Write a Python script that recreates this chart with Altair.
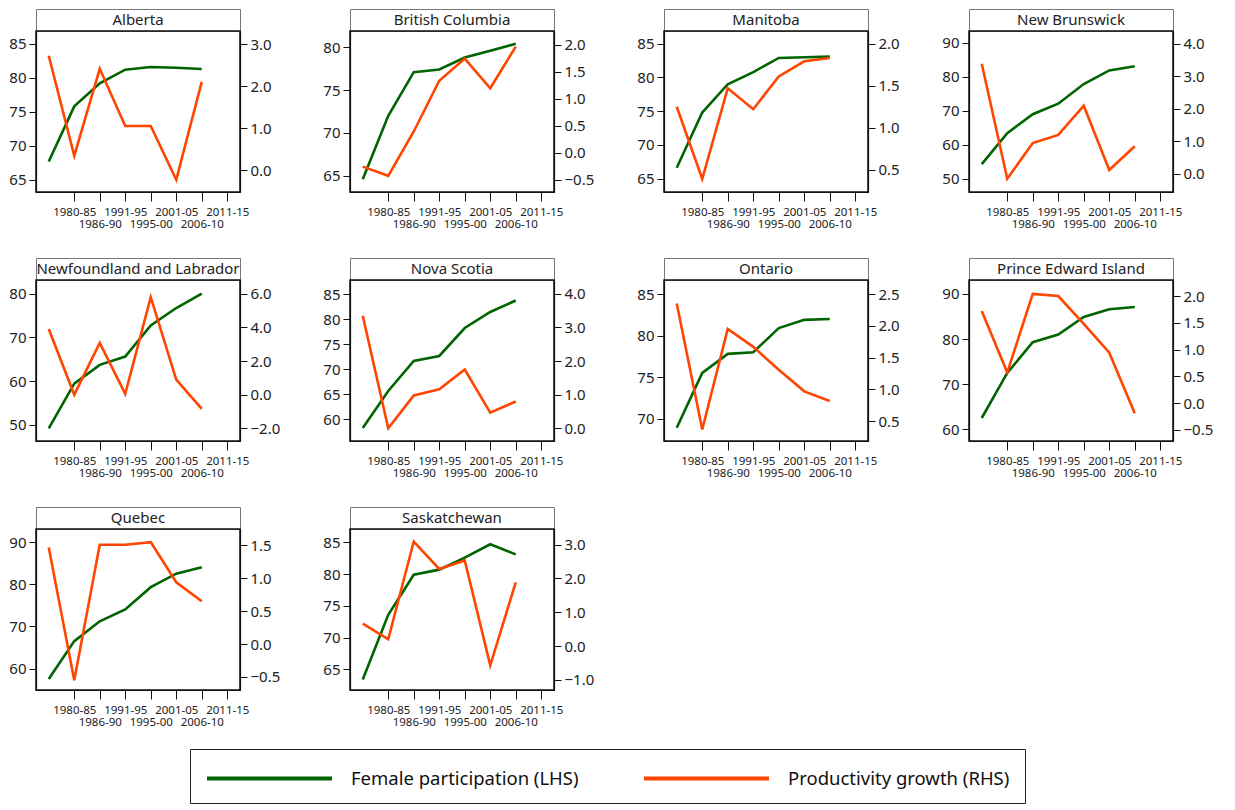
import altair as alt
import pandas as pd

# ---------------- data ----------------
provinces = ["Alberta", "British Columbia", "Manitoba", "New Brunswick",
             "Newfoundland and Labrador", "Nova Scotia", "Ontario",
             "Prince Edward Island", "Quebec", "Saskatchewan"]

positions = [0, 1, 2, 3, 4, 5, 6]
tick_labels = ["1980-85", "1986-90", "1991-95", "1995-00", "2001-05", "2006-10", "2011-15"]

female_AB = [67.7, 75.8, 79.2, 81.2, 81.6, 81.5, 81.3]
prod_AB = [2.72, 0.34, 2.41, 1.05, 1.05, -0.23, 2.10]
female_BC = [64.6, 72.0, 77.1, 77.4, 78.8, 79.6, 80.4]
prod_BC = [-0.26, -0.43, 0.39, 1.33, 1.74, 1.19, 1.96]
female_MB = [66.6, 74.8, 79.0, 80.8, 82.9, 83.0, 83.1]
prod_MB = [1.25, 0.39, 1.47, 1.22, 1.61, 1.79, 1.83]
female_NB = [54.3, 63.4, 69.0, 72.1, 77.9, 81.9, 83.1]
prod_NB = [3.39, -0.15, 0.95, 1.20, 2.10, 0.12, 0.85]
female_NL = [49.2, 59.4, 63.7, 65.6, 72.7, 76.7, 80.0]
prod_NL = [3.90, 0.00, 3.08, 0.05, 5.79, 0.89, -0.84]
female_NS = [58.2, 65.6, 71.6, 72.6, 78.2, 81.4, 83.7]
prod_NS = [3.35, 0.00, 0.98, 1.16, 1.75, 0.47, 0.80]
female_ON = [68.9, 75.5, 77.8, 78.0, 80.9, 81.9, 82.0]
prod_ON = [2.35, 0.37, 1.95, 1.67, 1.31, 0.97, 0.82]
female_PE = [62.5, 72.5, 79.3, 81.0, 84.9, 86.6, 87.1]
prod_PE = [1.72, 0.57, 2.04, 2.00, 1.48, 0.94, -0.19]
female_QC = [57.5, 66.5, 71.2, 74.0, 79.3, 82.5, 84.0]
prod_QC = [1.47, -0.55, 1.51, 1.51, 1.55, 0.94, 0.65]
female_SK = [63.4, 73.6, 79.9, 80.7, 82.6, 84.7, 83.1]
prod_SK = [0.66, 0.20, 3.09, 2.28, 2.53, -0.57, 1.88]

female_series = [female_AB, female_BC, female_MB, female_NB, female_NL,
                 female_NS, female_ON, female_PE, female_QC, female_SK]
prod_series = [prod_AB, prod_BC, prod_MB, prod_NB, prod_NL,
               prod_NS, prod_ON, prod_PE, prod_QC, prod_SK]

FEM = "Female participation (LHS)"
PROD = "Productivity growth (RHS)"

# ---------------- axis layout (styles) ----------------
left_domains = [[63.2, 86.9], [63.1, 81.9], [63.0, 86.9], [46.1, 93.5], [46.3, 83.1],
                [55.6, 87.8], [67.3, 86.7], [57.4, 93.1], [54.9, 93.1], [61.75, 87.1]]
left_ticks = [[65, 70, 75, 80, 85], [65, 70, 75, 80], [65, 70, 75, 80, 85],
              [50, 60, 70, 80, 90], [50, 60, 70, 80], [60, 65, 70, 75, 80, 85],
              [70, 75, 80, 85], [60, 70, 80, 90], [60, 70, 80, 90], [65, 70, 75, 80, 85]]
right_domains = [[-0.52, 3.31], [-0.73, 2.25], [0.236, 2.15], [-0.56, 4.4], [-2.75, 6.81],
                 [-0.375, 4.41], [0.19, 2.72], [-0.71, 2.3], [-0.70, 1.75], [-1.3, 3.46]]
right_ticks = [[0, 1, 2, 3], [-0.5, 0, 0.5, 1, 1.5, 2], [0.5, 1, 1.5, 2], [0, 1, 2, 3, 4],
               [-2, 0, 2, 4, 6], [0, 1, 2, 3, 4], [0.5, 1, 1.5, 2, 2.5],
               [-0.5, 0, 0.5, 1, 1.5, 2], [-0.5, 0, 0.5, 1, 1.5], [-1, 0, 1, 2, 3]]

FONT = "Noto Sans"
GREEN = "#006400"
ORANGE = "#ff4500"
W, H, HH = 204, 161, 22

arr = "[''," + ",".join("'%s'" % t for t in tick_labels) + "]"
label_expr = f"{arr}[datum.value]"
odd_ticks = [1, 3, 5, 7]
even_ticks = [2, 4, 6]

color_scale = alt.Scale(domain=[FEM, PROD], range=[GREEN, ORANGE])
legend = alt.Legend(orient="none", legendX=154, legendY=740, direction="horizontal",
                    title=None, symbolType="M-1,0H9", symbolSize=625, symbolStrokeWidth=4,
                    labelFontSize=18.5, labelFont=FONT, labelColor="#111", labelOffset=117,
                    columnPadding=57, padding=15, strokeColor="#222", labelLimit=400)

xscale = alt.Scale(domain=[-0.5, 7.5], nice=False, zero=False)


def xaxis(vals, pad):
    return alt.Axis(orient="bottom", values=vals, labelExpr=label_expr, title=None, grid=False,
                    labelOverlap=False, labelFlush=False, labelFontSize=11.5, tickSize=9,
                    labelPadding=pad, labelColor="#222")


def panel(i):
    name = provinces[i]
    rows = []
    for p, v in zip(positions, female_series[i]):
        rows.append({"pos": p, "series": FEM, "value": v})
    for p, v in zip(positions, prod_series[i]):
        rows.append({"pos": p, "series": PROD, "value": v})
    df = pd.DataFrame(rows)

    base = alt.Chart(df).encode(
        color=alt.Color("series:N", scale=color_scale, legend=legend),
    )
    left = base.transform_filter(alt.datum.series == FEM).mark_line(strokeWidth=2.6).encode(
        x=alt.X("pos:Q", scale=xscale, axis=xaxis(odd_ticks, 5)),
        y=alt.Y("value:Q", scale=alt.Scale(domain=left_domains[i], nice=False, zero=False),
                axis=alt.Axis(orient="left", values=left_ticks[i], title=None, grid=False,
                              labelFontSize=15, tickSize=7, labelPadding=3, labelColor="#222"))
    )
    right = base.transform_filter(alt.datum.series == PROD).mark_line(strokeWidth=2.6).encode(
        x=alt.X("pos:Q", scale=xscale, axis=xaxis(even_ticks, 17)),
        y=alt.Y("value:Q", scale=alt.Scale(domain=right_domains[i], nice=False, zero=False),
                axis=alt.Axis(orient="right", values=right_ticks[i], format=".1f", title=None,
                              grid=False, labelFontSize=15, tickSize=7, labelPadding=3,
                              labelColor="#222"))
    )
    plot = alt.layer(left, right).resolve_scale(y="independent").resolve_axis(
        x="independent").properties(width=W, height=H)
    header = alt.Chart(pd.DataFrame({"name": [name]})).mark_text(
        fontSize=15, font=FONT, color="#222", baseline="middle").encode(
        text="name:N").properties(width=W, height=HH,
                                  view=alt.ViewBackground(stroke="#777", strokeWidth=1))
    return alt.vconcat(header, plot, spacing=0, bounds="flush")


chart = alt.concat(*[panel(i) for i in range(len(provinces))], columns=4,
                   spacing={"row": 26, "column": 41}).resolve_scale(
    color="shared").properties(padding={"left": 0, "top": 0, "right": 0, "bottom": 0}).configure(
    font=FONT).configure_view(stroke="#111", strokeWidth=1.5).configure_axis(
    domainColor="#111", tickColor="#111", domainWidth=1.2, labelFont=FONT)

chart.save("out.html", embed_options={"renderer": "svg", "actions": False})
